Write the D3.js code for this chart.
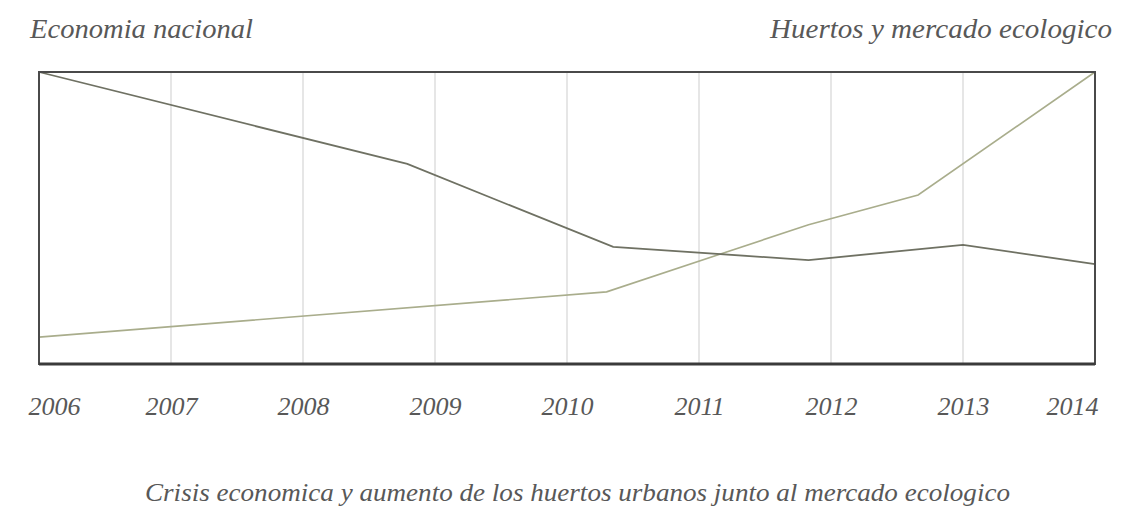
<!DOCTYPE html>
<html>
<head>
<meta charset="utf-8">
<script src="https://cdn.jsdelivr.net/npm/d3@7"></script>
<style>
  body { margin: 0; background: #fff; }
</style>
</head>
<body>
<div id="grafico"></div>
<script>
// datos (anio fraccional, valor 0-100)
const anios = [2006, 2007, 2008, 2009, 2010, 2011, 2012, 2013, 2014];
const economiaAnio = [2006, 2008.79, 2010.35, 2011.83, 2013, 2014];
const economiaValor = [100, 68.5, 40.1, 35.6, 40.8, 34.2];
const huertosAnio = [2006, 2010.3, 2011.83, 2012.66, 2014];
const huertosValor = [9.2, 24.7, 47.7, 57.9, 100];

const tituloIzq = 'Economia nacional';
const tituloDer = 'Huertos y mercado ecologico';
const pie = 'Crisis economica y aumento de los huertos urbanos junto al mercado ecologico';

const fuente = "'Liberation Serif', 'Times New Roman', serif";

const width = 1134, height = 519;
const m = { top: 72, right: 39, bottom: 155, left: 39 };
const w = width - m.left - m.right;
const h = height - m.top - m.bottom;

const svg = d3.select('#grafico').append('svg')
  .attr('width', width)
  .attr('height', height);

const g = svg.append('g').attr('transform', `translate(${m.left},${m.top})`);

const x = d3.scaleLinear().domain([2006, 2014]).range([0, w]);
const y = d3.scaleLinear().domain([0, 100]).range([h, 0]);

// lineas verticales
g.selectAll('line.grid')
  .data(anios.slice(1, -1))
  .enter()
  .append('line')
  .attr('class', 'grid')
  .attr('x1', d => x(d))
  .attr('x2', d => x(d))
  .attr('y1', 0)
  .attr('y2', h)
  .attr('stroke', '#d6d6d6')
  .attr('stroke-width', 1.2);

const linea = d3.line().x(d => x(d[0])).y(d => y(d[1]));

g.append('path')
  .datum(huertosAnio.map((a, i) => [a, huertosValor[i]]))
  .attr('d', linea)
  .attr('fill', 'none')
  .attr('stroke', '#a9ad8c')
  .attr('stroke-width', 1.6);

g.append('path')
  .datum(economiaAnio.map((a, i) => [a, economiaValor[i]]))
  .attr('d', linea)
  .attr('fill', 'none')
  .attr('stroke', '#6f7163')
  .attr('stroke-width', 1.8);

// marco
g.append('rect')
  .attr('x', 0)
  .attr('y', 0)
  .attr('width', w)
  .attr('height', h)
  .attr('fill', 'none')
  .attr('stroke', '#4a4a4a')
  .attr('stroke-width', 2);

g.append('line')
  .attr('x1', 0).attr('x2', w)
  .attr('y1', h).attr('y2', h)
  .attr('stroke', '#3a3a3a')
  .attr('stroke-width', 3);

// eje x
const eje = g.append('g')
  .attr('transform', `translate(0,${h})`)
  .call(d3.axisBottom(x).tickValues(anios).tickFormat(d3.format('d')).tickSize(0).tickPadding(0));
eje.select('.domain').remove();
eje.attr('font-family', null).attr('font-size', null);
eje.selectAll('text')
  .attr('y', 51)
  .attr('dy', 0)
  .attr('fill', '#585858')
  .style('font-family', fuente)
  .style('font-style', 'italic')
  .style('font-size', '26px')
  .attr('dx', (d, i) => i === 0 ? 15 : (i === anios.length - 1 ? -23 : 0));

function texto(t, xx, yy, tam, largo) {
  svg.append('text')
    .attr('x', xx)
    .attr('y', yy)
    .attr('fill', '#585858')
    .style('font-family', fuente)
    .style('font-style', 'italic')
    .style('font-size', tam + 'px')
    .attr('textLength', largo)
    .attr('lengthAdjust', 'spacingAndGlyphs')
    .text(t);
}

texto(tituloIzq, 30, 38, 27, 223);
texto(tituloDer, 770, 38, 27, 342);
texto(pie, 145, 501, 26, 865);
</script>
</body>
</html>
